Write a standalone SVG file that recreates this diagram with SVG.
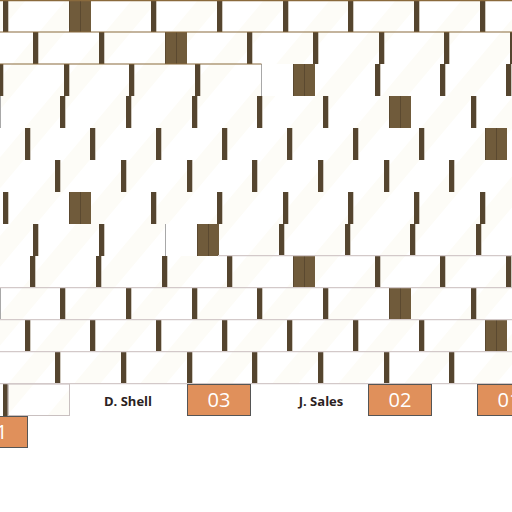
<svg xmlns="http://www.w3.org/2000/svg" xmlns:xlink="http://www.w3.org/1999/xlink" width="512" height="512" viewBox="0 0 512 512">
<style>
.bar{fill:#55452f}
.edge{fill:#cfc9bf}
.blk{fill:#705b3b}
.blkl{fill:#5b4930}
.hb{stroke:#8a6a3c;stroke-width:1.2}
.hp{stroke:#d3c9c9;stroke-width:1.2}
.vg{stroke:#a8a8a8;stroke-width:1}
.tag{fill:#e0905b;stroke:#555555;stroke-width:1}
.num{font-family:'Open Sans','DejaVu Sans',sans-serif;font-size:20px;fill:#ffffff;text-anchor:middle}
.name{font-family:'Open Sans','DejaVu Sans',sans-serif;font-size:13px;font-weight:bold;fill:#2b2222;text-anchor:middle}
</style>
<defs>
<pattern id="sh" patternUnits="userSpaceOnUse" width="66" height="32" patternTransform="skewX(-40)">
<rect width="66" height="32" fill="#ffffff"/>
<rect width="26" height="32" fill="#fdfcf7"/>
</pattern>
<g id="b"><rect class="bar" width="5" height="32"/><rect class="edge" x="5" width="1" height="32"/></g>
<g id="k"><rect class="blk" width="22" height="32"/><rect class="blkl" width="1" height="32"/><rect class="blkl" x="11" width="1" height="32"/></g>
<g id="r0">
<use href="#b" x="3"/><use href="#k" x="69"/><use href="#b" x="151"/><use href="#b" x="217"/><use href="#b" x="283"/><use href="#b" x="348"/><use href="#b" x="414"/><use href="#b" x="480"/>
</g>
<g id="r3">
<use href="#b" x="60"/><use href="#b" x="126"/><use href="#b" x="192"/><use href="#b" x="257"/><use href="#b" x="323"/><use href="#k" x="389"/><use href="#b" x="471"/>
<line class="vg" x1="0.5" y1="0" x2="0.5" y2="32"/>
</g>
<g id="r4">
<use href="#b" x="25"/><use href="#b" x="90"/><use href="#b" x="156"/><use href="#b" x="222"/><use href="#b" x="287"/><use href="#b" x="353"/><use href="#b" x="419"/><use href="#k" x="485"/>
</g>
<g id="r5">
<use href="#b" x="55"/><use href="#b" x="121"/><use href="#b" x="187"/><use href="#b" x="252"/><use href="#b" x="318"/><use href="#b" x="384"/><use href="#b" x="449"/>
</g>
</defs>
<rect width="512" height="512" fill="#ffffff"/>
<g id="shading">
<rect x="0" y="0" width="512" height="64" fill="url(#sh)"/>
<rect x="0" y="64" width="261" height="32" fill="url(#sh)"/>
<rect x="293" y="64" width="219" height="32" fill="url(#sh)"/>
<rect x="0" y="96" width="512" height="128" fill="url(#sh)"/>
<rect x="0" y="224" width="165" height="32" fill="url(#sh)"/>
<rect x="197" y="224" width="315" height="32" fill="url(#sh)"/>
<rect x="0" y="256" width="512" height="128" fill="url(#sh)"/>
<rect x="8" y="384" width="61" height="32" fill="url(#sh)"/>
</g>
<g id="rows">
<use href="#r0" y="0"/>
<g id="row1" transform="translate(0,32)">
<use href="#b" x="33"/><use href="#b" x="99"/><use href="#k" x="165"/><use href="#b" x="247"/><use href="#b" x="313"/><use href="#b" x="379"/><use href="#b" x="444"/><use href="#b" x="510"/>
</g>
<g id="row2" transform="translate(0,64)">
<use href="#b" x="-2"/><use href="#b" x="64"/><use href="#b" x="129"/><use href="#b" x="195"/><use href="#k" x="293"/><use href="#b" x="375"/><use href="#b" x="440"/><use href="#b" x="506"/>
<line class="vg" x1="261.5" y1="0" x2="261.5" y2="32"/>
</g>
<use href="#r3" y="96"/>
<use href="#r4" y="128"/>
<use href="#r5" y="160"/>
<use href="#r0" y="192"/>
<g id="row7" transform="translate(0,224)">
<use href="#b" x="33"/><use href="#b" x="99"/><use href="#k" x="197"/><use href="#b" x="279"/><use href="#b" x="345"/><use href="#b" x="410"/><use href="#b" x="476"/>
<line class="vg" x1="165.5" y1="0" x2="165.5" y2="32"/>
</g>
<g id="row8" transform="translate(0,256)">
<use href="#b" x="30"/><use href="#b" x="96"/><use href="#b" x="162"/><use href="#b" x="227"/><use href="#k" x="293"/><use href="#b" x="375"/><use href="#b" x="440"/><use href="#b" x="506"/>
</g>
<use href="#r3" y="288"/>
<use href="#r4" y="320"/>
<use href="#r5" y="352"/>
<g id="row12" transform="translate(0,384)">
<use href="#b" x="3"/>
<rect x="8" y="0" width="61.5" height="31.5" fill="none" stroke="#c9c0c0" stroke-width="1"/>
</g>
</g>
<g id="lines">
<line class="hb" x1="0" y1="0.6" x2="512" y2="0.6"/>
<line class="hb" x1="0" y1="32" x2="512" y2="32"/>
<line class="hb" x1="0" y1="64" x2="261.5" y2="64"/>
<line class="hp" x1="218" y1="255.6" x2="512" y2="255.6"/>
<line class="hp" x1="0" y1="287.6" x2="512" y2="287.6"/>
<line class="hp" x1="0" y1="319.6" x2="512" y2="319.6"/>
<line class="hp" x1="0" y1="351.6" x2="512" y2="351.6"/>
<line class="hp" x1="0" y1="383.6" x2="512" y2="383.6"/>
</g>
<g id="label-dshell"><text class="name" x="128" y="406">D. Shell</text></g>
<g id="tag-03"><rect class="tag" x="187.5" y="384.5" width="63" height="31"/><text class="num" x="219" y="407">03</text></g>
<g id="label-jsales"><text class="name" x="321" y="406">J. Sales</text></g>
<g id="tag-02"><rect class="tag" x="368.5" y="384.5" width="63" height="31"/><text class="num" x="400" y="407">02</text></g>
<g id="tag-01a"><rect class="tag" x="477.5" y="384.5" width="63" height="31"/><text class="num" x="509" y="407">01</text></g>
<g id="tag-01b"><rect class="tag" x="-35.5" y="416.5" width="63" height="31"/><text class="num" x="-4" y="439">01</text></g>
</svg>
